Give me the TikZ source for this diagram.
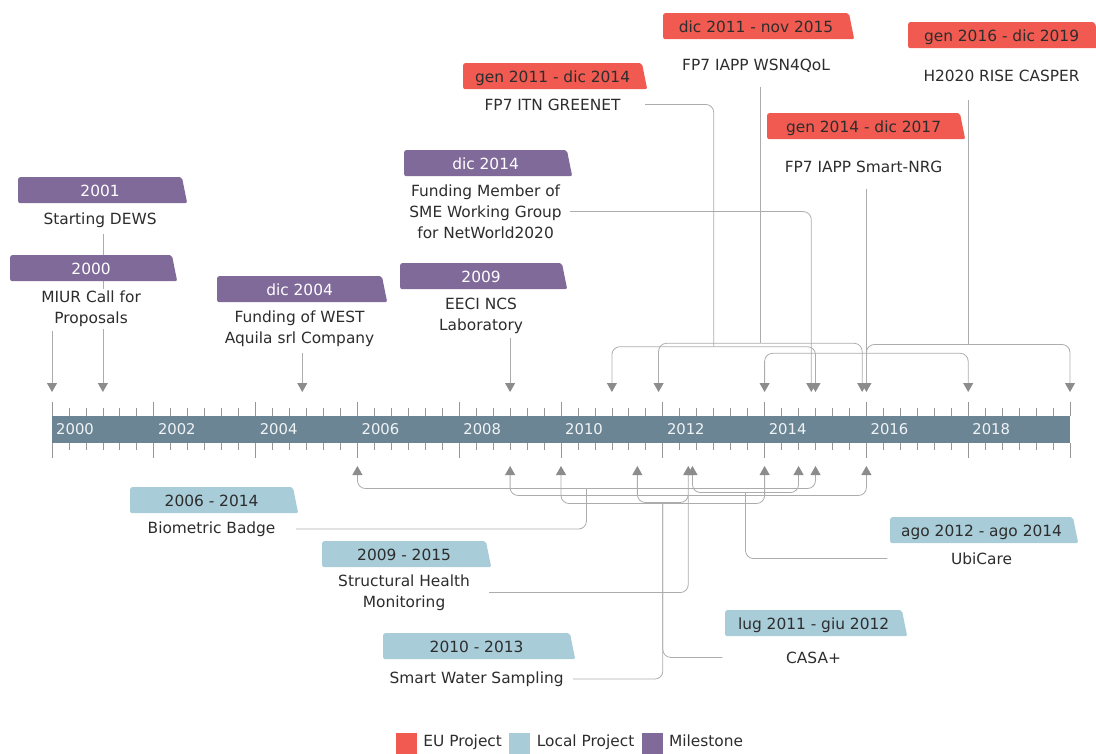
\documentclass[tikz,border=0pt]{standalone}
\usepackage{fontspec}
\setmainfont{DejaVu Sans}
\usetikzlibrary{positioning,calc,shapes.geometric,arrows.meta}
\pgfdeclarelayer{bg}
\pgfsetlayers{bg,main}

\definecolor{eured}{RGB}{240,90,80}
\definecolor{locblue}{RGB}{168,204,216}
\definecolor{milepurple}{RGB}{128,106,154}
\definecolor{barcol}{RGB}{108,133,148}
\definecolor{linegray}{RGB}{172,172,172}
\definecolor{tipgray}{RGB}{140,140,140}
\definecolor{tickgray}{RGB}{150,150,150}
\definecolor{txtdark}{RGB}{45,45,45}

\newcommand\lblfont{\fontsize{15.4}{21}\selectfont}
\newcommand\yearfont{\fontsize{14.8}{17}\selectfont}

\tikzset{
  tag/.style={trapezium, trapezium left angle=90, trapezium right angle=75,
    trapezium stretches body=true, minimum height=26pt, inner sep=0pt,
    rounded corners=2pt, font=\lblfont, text height=16pt, text depth=3.6pt},
  eu/.style={tag, fill=eured, text=txtdark},
  loc/.style={tag, fill=locblue, text=txtdark},
  mile/.style={tag, fill=milepurple, text=white},
  lbl/.style={align=center, font=\lblfont, text=txtdark, fill=white, inner sep=2pt},
  conn/.style={draw=linegray, line width=0.8pt, rounded corners=8pt},
  arr/.style={-{Triangle[width=10pt,length=9pt,color=tipgray]}},
  tickmark/.style={draw=tickgray, line width=0.8pt},
  yearlbl/.style={font=\yearfont, text={rgb,255:red,240;green,244;blue,246}, inner sep=0pt, anchor=west},
  legbox/.style={minimum size=21pt, inner sep=0pt},
  legtxt/.style={font=\lblfont, text=txtdark, inner sep=0pt, text height=10pt, text depth=3.6pt}
}

\begin{document}
\begin{tikzpicture}[x=1pt,y=-1pt,declare function={yr(\t)=52+(\t-2000)*50.9;}]
  \useasboundingbox (0,0) rectangle (1096,753);

  % time axis
  \fill[barcol] (52,416) rectangle (1070,443);
  \foreach \i in {0,...,60} {
    \draw[tickmark] ({yr(2000+\i/3)},408) -- ({yr(2000+\i/3)},416);
    \draw[tickmark] ({yr(2000+\i/3)},443) -- ({yr(2000+\i/3)},450);
  }
  \foreach \yy in {2000,2002,...,2020} {
    \draw[tickmark] ({yr(\yy)},402) -- ({yr(\yy)},416);
    \draw[tickmark] ({yr(\yy)},443) -- ({yr(\yy)},458);
  }
  \foreach \yy in {2000,2002,...,2018}
    \node[yearlbl] (y\yy) at ({yr(\yy)+4},429.5) {\yy};

  % events: name/style/x/y/width/date/label/gap
  \foreach \nm/\st/\xx/\yy/\tw/\dt/\lb/\off in {
    dews/mile/18/177/169pt/2001/{Starting DEWS}/7pt,
    miur/mile/10/255/167pt/2000/{MIUR Call for\\Proposals}/7pt,
    west/mile/217/276/170pt/dic 2004/{Funding of WEST\\Aquila srl Company}/6pt,
    eeci/mile/400/263/167pt/2009/{EECI NCS\\Laboratory}/6pt,
    sme/mile/404/150/168pt/dic 2014/{Funding Member of\\SME Working Group\\for NetWorld2020}/6pt,
    greenet/eu/463/63/184pt/gen 2011 - dic 2014/{FP7 ITN GREENET}/7pt,
    wsn/eu/663/13/191pt/dic 2011 - nov 2015/{FP7 IAPP WSN4QoL}/17pt,
    casper/eu/908/22/192pt/gen 2016 - dic 2019/{H2020 RISE CASPER}/19pt,
    nrg/eu/767/113/198pt/gen 2014 - dic 2017/{FP7 IAPP Smart-NRG}/19pt,
    bio/loc/130/487/168pt/2006 - 2014/{Biometric Badge}/6pt,
    shm/loc/322/541/169pt/2009 - 2015/{Structural Health\\Monitoring}/5pt,
    sws/loc/383/633/192pt/2010 - 2013/{Smart Water Sampling}/10pt,
    casa/loc/725/610/182pt/lug 2011 - giu 2012/{CASA+}/13pt,
    ubi/loc/890/517/188pt/ago 2012 - ago 2014/{UbiCare}/7pt} {
    \node[\st, minimum width=\tw, anchor=top left corner] (\nm) at (\xx,\yy) {\dt};
    \node[lbl, minimum width=\tw, below=\off of \nm] (\nm-l) {\lb};
  }

  % arrow tips on the axis
  \foreach \nm/\t in {miur/2000, dews/2001, west/2004.917, eeci/2009, sme/2014.917,
      greenet-a/2011, greenet-b/2015, wsn-a/2011.917, wsn-b/2015.917,
      nrg-a/2014, nrg-b/2018, casper-a/2016, casper-b/2020}
    \coordinate (up-\nm) at ({yr(\t)},392);
  \foreach \nm/\t in {bio-a/2006, bio-b/2015, shm-a/2009, shm-b/2016, sws-a/2010,
      sws-b/2014, casa-a/2011.5, casa-b/2012.5, ubi-a/2012.583, ubi-b/2014.667}
    \coordinate (dn-\nm) at ({yr(\t)},466);
  \foreach \nm/\t/\lv in {greenet/2013/346.7, wsn/2013.917/343.3, nrg/2016/353.3,
      casper/2018/344.5, bio/2010.5/488.5, shm/2012.5/495.5, sws/2012/503.5,
      casa/2012/502.5, ubi/2013.625/492.5}
    \coordinate (j-\nm) at ({yr(\t)},\lv);

  \begin{pgfonlayer}{bg}
    \foreach \nm/\dy in {dews/4, miur/2, west/4, eeci/3}
      \draw[conn,arr] ($(\nm-l.south -| up-\nm)+(0,\dy)$) -- (up-\nm);
    \draw[conn,arr] (sme-l.east) -| (up-sme);
    \foreach \nm/\dy in {wsn/13, nrg/15, casper/17}
      \draw[conn] ($(\nm-l.south -| j-\nm)+(0,\dy)$) -- (j-\nm);
    \foreach \nm/\sd in {greenet/east, bio/east, shm/east, sws/east, casa/west, ubi/west}
      \draw[conn] (\nm-l.\sd) -| (j-\nm);
    \foreach \nm in {greenet,wsn,nrg,casper} {
      \draw[conn,arr] (j-\nm) -| (up-\nm-a);
      \draw[conn,arr] (j-\nm) -| (up-\nm-b);
    }
    \foreach \nm in {bio,shm,sws,casa,ubi} {
      \draw[conn,arr] (j-\nm) -| (dn-\nm-a);
      \draw[conn,arr] (j-\nm) -| (dn-\nm-b);
    }
  \end{pgfonlayer}

  % legend
  \node[legbox, fill=eured] (k-eu) at (406.5,743.5) {};
  \node[legtxt, right=6pt of k-eu] (k-eu-t) {EU Project};
  \node[legbox, fill=locblue, right=7pt of k-eu-t] (k-loc) {};
  \node[legtxt, right=6pt of k-loc] (k-loc-t) {Local Project};
  \node[legbox, fill=milepurple, right=7pt of k-loc-t] (k-mile) {};
  \node[legtxt, right=6pt of k-mile] (k-mile-t) {Milestone};
\end{tikzpicture}
\end{document}
